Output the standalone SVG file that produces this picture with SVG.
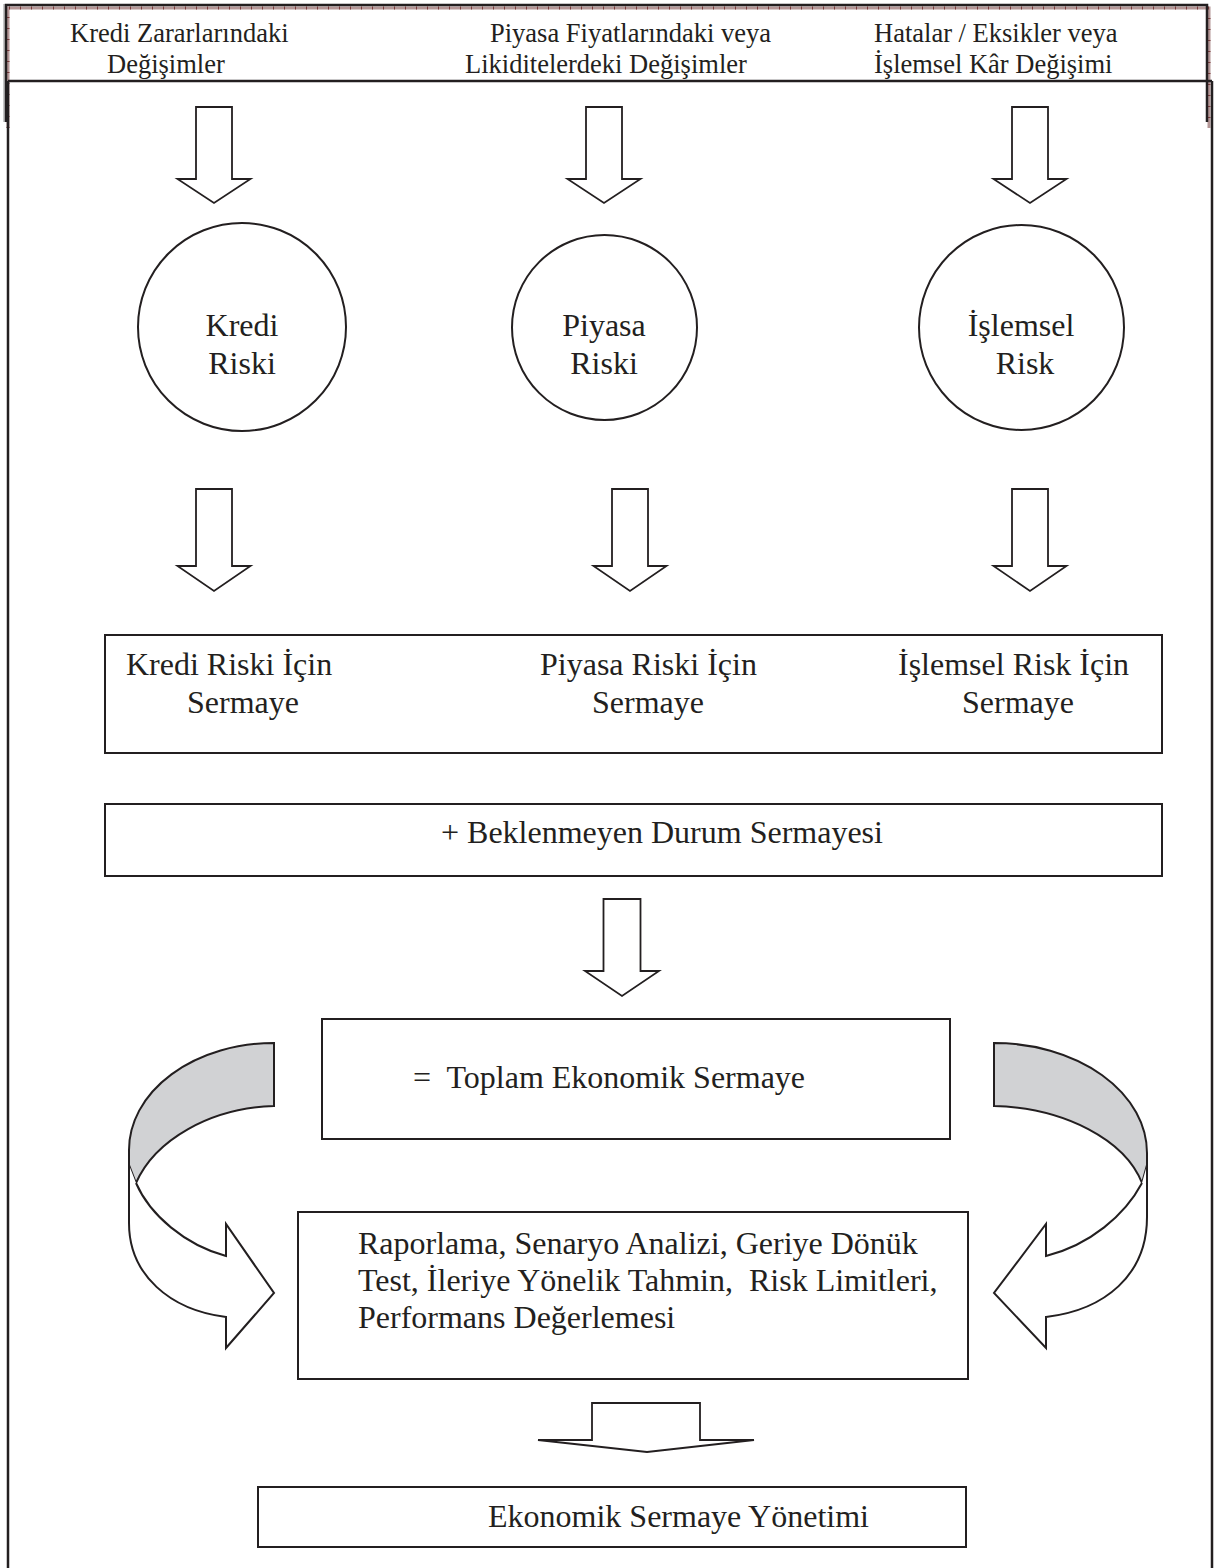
<svg xmlns="http://www.w3.org/2000/svg" width="1223" height="1568" viewBox="0 0 1223 1568">
<style>
.t{font-family:"Liberation Serif","Times New Roman",serif;fill:#231f20}
.h{font-size:26.5px}
.b{font-size:32px}
.shape{fill:#fff;stroke:#231f20;stroke-width:2}
.arr{fill:#fff;stroke:#231f20;stroke-width:1.8;stroke-linejoin:miter}
.frame{fill:none;stroke:#231f20;stroke-width:2.5}
.hatch{fill:none;stroke:#b49696;stroke-width:3}
.tick{fill:none;stroke:#7a3c3c;stroke-width:3;stroke-dasharray:1 10}
.gray{fill:#d1d2d4;stroke:#231f20;stroke-width:2}
</style>
<rect x="0" y="0" width="1223" height="1568" fill="#fff"/>
<g id="frame">
<path class="hatch" d="M8,128 V8 H1209 V128"/>
<path class="tick" d="M8,128 V8 H1209 V128"/>
<path d="M4,4 V122" stroke="#c8c8c8" stroke-width="2" fill="none"/>
<path class="frame" d="M6,122 V5 H1207 V122"/>
<path class="frame" d="M8,81 H1212"/>
<path class="frame" d="M8,81 V1568"/>
<path class="frame" d="M1212,81 V1568"/>
</g>
<g id="header">
<text class="t h" x="70" y="42">Kredi Zararlarındaki</text>
<text class="t h" x="107" y="73">Değişimler</text>
<text class="t h" x="490" y="42">Piyasa Fiyatlarındaki veya</text>
<text class="t h" x="465" y="73">Likiditelerdeki Değişimler</text>
<text class="t h" x="874" y="42">Hatalar / Eksikler veya</text>
<text class="t h" x="874" y="73">İşlemsel Kâr Değişimi</text>
</g>
<g id="connectors">
<polygon class="arr" points="196,107 232,107 232,179 250.5,179 214,203 177.5,179 196,179"/>
<polygon class="arr" points="586,107 622,107 622,179 640.5,179 604,203 567.5,179 586,179"/>
<polygon class="arr" points="1012,107 1048,107 1048,179 1066.5,179 1030,203 993.5,179 1012,179"/>
<polygon class="arr" points="196,489 232,489 232,566 250.5,566 214,591 177.5,566 196,566"/>
<polygon class="arr" points="612,489 648,489 648,566 666.5,566 630,591 593.5,566 612,566"/>
<polygon class="arr" points="1012,489 1048,489 1048,566 1066.5,566 1030,591 993.5,566 1012,566"/>
<polygon class="arr" points="603.5,899 640.5,899 640.5,971 659,971 622,996 585,971 603.5,971"/>
<polygon class="arr" points="592,1403 700,1403 700,1440 754,1440 647,1452 538,1440 592,1440"/>
<g id="curved-left">
<path class="gray" d="M274,1043 A145,107 0 0 0 129,1150 L129,1165 L136,1183 C155,1140 210,1108 274,1106 Z"/>
<path fill="#fff" stroke="none" d="M129,1165 L129,1223 C129,1275 170,1310 226,1317 L226,1348 L274,1293 L226,1224 L226,1256 C185,1245 150,1215 136,1183 Z"/>
<path fill="none" stroke="#231f20" stroke-width="2" d="M129,1150 L129,1223 C129,1275 170,1310 226,1317 L226,1348 L274,1293 L226,1224 L226,1256 C185,1245 150,1215 136,1183"/>
</g>
<g id="curved-right">
<path class="gray" d="M994,1043 A153,110 0 0 1 1147,1153 L1147,1165 L1142,1183 C1125,1140 1065,1108 994,1106 Z"/>
<path fill="#fff" stroke="none" d="M1147,1165 L1147,1217 C1147,1275 1105,1310 1046,1317 L1046,1348 L994,1293 L1046,1224 L1046,1256 C1090,1245 1125,1215 1142,1183 Z"/>
<path fill="none" stroke="#231f20" stroke-width="2" d="M1147,1153 L1147,1217 C1147,1275 1105,1310 1046,1317 L1046,1348 L994,1293 L1046,1224 L1046,1256 C1090,1245 1125,1215 1142,1183"/>
</g>
</g>
<g id="node-kredi-riski">
<circle class="shape" cx="242" cy="327" r="104"/>
<text class="t b" x="242" y="336" text-anchor="middle">Kredi</text>
<text class="t b" x="242" y="374" text-anchor="middle">Riski</text>
</g>
<g id="node-piyasa-riski">
<circle class="shape" cx="604.5" cy="327.5" r="92.5"/>
<text class="t b" x="604" y="336" text-anchor="middle">Piyasa</text>
<text class="t b" x="604" y="374" text-anchor="middle">Riski</text>
</g>
<g id="node-islemsel-risk">
<circle class="shape" cx="1021.5" cy="327.5" r="102.5"/>
<text class="t b" x="1021" y="336" text-anchor="middle">İşlemsel</text>
<text class="t b" x="1025" y="374" text-anchor="middle">Risk</text>
</g>
<g id="node-sermaye">
<rect class="shape" x="105" y="635" width="1057" height="118"/>
<text class="t b" x="126" y="675">Kredi Riski İçin</text>
<text class="t b" x="187" y="713">Sermaye</text>
<text class="t b" x="540" y="675">Piyasa Riski İçin</text>
<text class="t b" x="592" y="713">Sermaye</text>
<text class="t b" x="898" y="675">İşlemsel Risk İçin</text>
<text class="t b" x="962" y="713">Sermaye</text>
</g>
<g id="node-beklenmeyen">
<rect class="shape" x="105" y="804" width="1057" height="72"/>
<text class="t b" x="441" y="843">+ Beklenmeyen Durum Sermayesi</text>
</g>
<g id="node-toplam">
<rect class="shape" x="322" y="1019" width="628" height="120"/>
<text class="t b" x="413" y="1088" xml:space="preserve">=  Toplam Ekonomik Sermaye</text>
</g>
<g id="node-raporlama">
<rect class="shape" x="298" y="1212" width="670" height="167"/>
<text class="t b" x="358" y="1254">Raporlama, Senaryo Analizi, Geriye Dönük</text>
<text class="t b" x="358" y="1291" xml:space="preserve">Test, İleriye Yönelik Tahmin,  Risk Limitleri,</text>
<text class="t b" x="358" y="1328">Performans Değerlemesi</text>
</g>
<g id="node-yonetim">
<rect class="shape" x="258" y="1487" width="708" height="60"/>
<text class="t b" x="488" y="1527">Ekonomik Sermaye Yönetimi</text>
</g>
</svg>
